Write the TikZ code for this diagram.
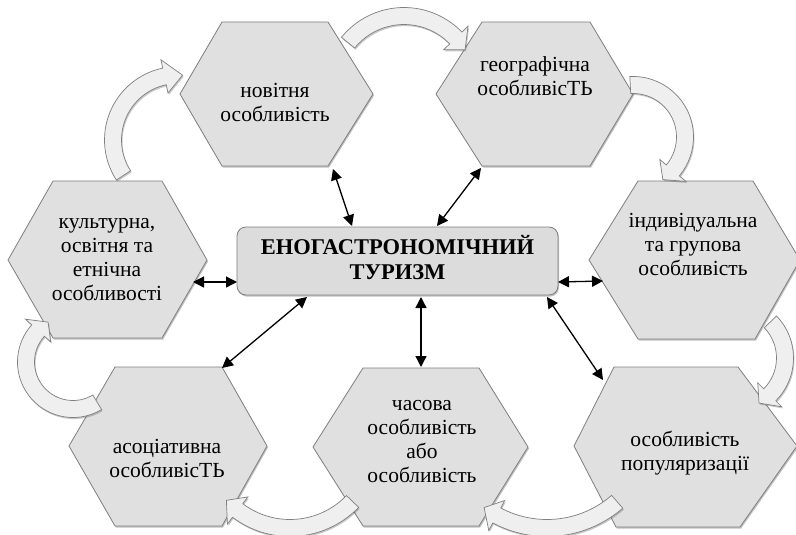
\documentclass[tikz,border=0pt]{standalone}
\usepackage{fontspec}
\setmainfont{Liberation Serif}
\usetikzlibrary{arrows.meta,shadows}
\definecolor{hexfill}{HTML}{E0E0E0}
\definecolor{hexline}{HTML}{7F7F7F}
\definecolor{arrfill}{HTML}{EFEFEF}
\definecolor{boxfill}{HTML}{DCDCDC}
\newcommand\cabw{8.5}
\newcommand\cahw{17}
% #1 cx, #2 cy, #3 R, #4 tail angle, #5 head base angle, #6 tip angle
\newcommand\cArrow[6]{%
  \pgfmathsetmacro\caro{#3+\cabw}%
  \pgfmathsetmacro\cari{#3-\cabw}%
  \pgfmathsetmacro\caho{#3+\cahw}%
  \pgfmathsetmacro\cahi{#3-\cahw}%
  \draw[carrow] ([shift={(#1,#2)}]#4:\caro) arc[start angle=#4, end angle=#5, radius=\caro]
    -- ([shift={(#1,#2)}]#5:\caho) -- ([shift={(#1,#2)}]#6:#3)
    -- ([shift={(#1,#2)}]#5:\cahi) -- ([shift={(#1,#2)}]#5:\cari)
    arc[start angle=#5, end angle=#4, radius=\cari] -- cycle;}
\begin{document}
\begin{tikzpicture}[x=1pt,y=-1pt,
  hexst/.style={draw=hexline, fill=hexfill, line width=0.8pt,
    drop shadow={shadow xshift=1pt,shadow yshift=-1.6pt,opacity=0.35,fill=black!70}},
  carrow/.style={draw=hexline, fill=arrfill, line width=0.7pt,
    drop shadow={shadow xshift=1pt,shadow yshift=-1.6pt,opacity=0.3,fill=black!70}},
  lbl/.style={align=center, inner sep=0pt, font=\fontsize{21.5}{24}\selectfont,
    execute at begin node=\strut, execute at end node=\strut},
  hub/.style={draw=hexline, fill=boxfill, rounded corners=9pt, line width=0.8pt,
    minimum width=321pt, minimum height=68pt, align=center, inner sep=0pt,
    font=\fontsize{22.5}{25}\selectfont\bfseries,
    execute at begin node={\rule{0pt}{24.5pt}}, execute at end node=\strut,
    drop shadow={shadow xshift=1pt,shadow yshift=-1.6pt,opacity=0.35,fill=black!70}},
  link/.style={{Triangle[length=11pt,width=11pt]}-{Triangle[length=11pt,width=11pt]}, line width=1.3pt}]
\useasboundingbox (0,0) rectangle (796,535);
\fill[white] (0,0) rectangle (796,535);

% hexagons
\draw[hexst] (180,94) -- (222,22) -- (328,22) -- (373,94) -- (328,166) -- (222,166) -- cycle;
\draw[hexst] (436,94) -- (482,22) -- (590,22) -- (633,94) -- (590,166) -- (482,166) -- cycle;
\draw[hexst] (8,260) -- (53,181) -- (162,181) -- (207,260) -- (162,338) -- (53,338) -- cycle;
\draw[hexst] (589,260) -- (638,181) -- (753,181) -- (800,260) -- (755,339) -- (638,339) -- cycle;
\draw[hexst] (69,446) -- (115,367) -- (222,367) -- (267,446) -- (222,526) -- (115,526) -- cycle;
\draw[hexst] (313,447) -- (363,368) -- (479,368) -- (528,447) -- (479,526) -- (363,526) -- cycle;
\draw[hexst] (574,446) -- (614,367) -- (738,367) -- (797,446) -- (740,527) -- (616,527) -- cycle;

% curved block arrows
\cArrow{404}{88}{72}{219}{316}{328}
\cArrow{178}{140}{65}{147}{258}{274}
\cArrow{633}{137}{52}{267}{400}{415}
\cArrow{733}{358}{52}{316}{405}{420}
\cArrow{547}{421}{107}{49}{118}{126}
\cArrow{290}{441}{87}{44}{127}{137}
\cArrow{73}{362}{47}{59}{222}{238}

% labels
\node[lbl] (n1) at (275,105.7) {новітня\\особливість};
\node[lbl] (n2) at (535,79.2) {географічна\\особливісТЬ};
\node[lbl] (n3) at (107,262.7) {культурна,\\освітня та\\етнічна\\особливості};
\node[lbl] (n4) at (693,247.7) {індивідуальна\\та групова\\особливість};
\node[lbl] (n5) at (167,461.7) {асоціативна\\особливісТЬ};
\node[lbl] (n6) at (422,445.2) {часова\\особливість\\або\\особливість};
\node[lbl] (n7) at (685,454.7) {особливість\\популяризації};

\node[hub] (hub) at (397.5,261) {ЕНОГАСТРОНОМІЧНИЙ\\ТУРИЗМ};

% connector end points
\coordinate (e1a) at (333,169);  \coordinate (e1b) at (352,226);
\coordinate (e2a) at (481,168);  \coordinate (e2b) at (437,226);
\coordinate (e3a) at (193,282);  \coordinate (e3b) at (237,282);
\coordinate (e4a) at (558,282);  \coordinate (e4b) at (603,281);
\coordinate (e5a) at (307,297);  \coordinate (e5b) at (222,368);
\coordinate (e6a) at (421,297);  \coordinate (e6b) at (421,367);
\coordinate (e7a) at (547,297);  \coordinate (e7b) at (603,380);

\draw[link] (e1a) -- (e1b);
\draw[link] (e2a) -- (e2b);
\draw[link] (e3a) -- (e3b);
\draw[link] (e4a) -- (e4b);
\draw[link] (e5a) -- (e5b);
\draw[link] (e6a) -- (e6b);
\draw[link] (e7a) -- (e7b);
\end{tikzpicture}
\end{document}
